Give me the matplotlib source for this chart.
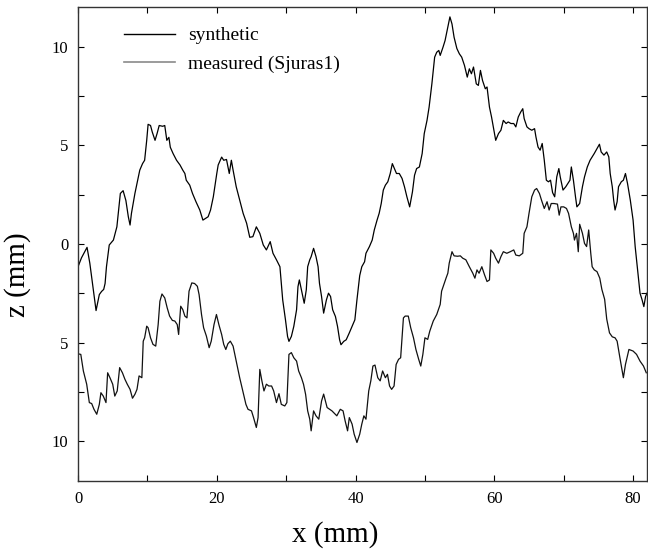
import numpy as np
from matplotlib import pyplot as plt
from matplotlib.lines import Line2D

# synthetic profile (upper curve)
syn_x = [0.0, 0.5, 1.3, 1.7, 2.6, 3.07, 3.4, 3.7, 3.9, 4.1, 4.5, 5.1, 5.6, 6.1, 6.5, 6.9, 7.25, 7.5, 7.7,
         8.2, 8.5, 8.9, 9.3, 9.6, 9.9, 10.1, 10.45, 10.7, 11.1, 11.4, 11.7, 12.2, 12.5, 12.8, 13.1, 13.3,
         13.7, 14.2, 14.7, 15.1, 15.4, 15.6, 16.1, 16.5, 17.0, 17.55, 18.0, 18.4, 18.75, 19.1, 19.5, 20.0,
         20.2, 20.7, 21.0, 21.4, 21.8, 22.1, 22.35, 22.8, 23.3, 23.8, 24.3, 24.75, 25.2, 25.7, 26.2, 26.7,
         27.15, 27.7, 28.1, 28.6, 29.1, 29.5, 29.9, 30.2, 30.4, 30.75, 31.1, 31.5, 31.7, 31.9, 32.2, 32.6,
         32.9, 33.1, 33.4, 33.6, 33.95, 34.3, 34.6, 34.8, 35.1, 35.4, 35.8, 36.1, 36.4, 36.7, 37.1, 37.4,
         37.7, 37.9, 38.3, 38.65, 39.1, 39.5, 39.9, 40.2, 40.6, 40.9, 41.3, 41.5, 42.0, 42.4, 42.7, 43.1,
         43.4, 43.7, 44.0, 44.3, 44.65, 45.0, 45.3, 45.6, 45.9, 46.3, 46.7, 47.05, 47.4, 47.8, 48.2, 48.5,
         48.8, 49.2, 49.6, 49.9, 50.3, 50.6, 51.0, 51.4, 51.7, 52.0, 52.2, 52.6, 52.9, 53.1, 53.4, 53.6,
         53.9, 54.2, 54.6, 54.96, 55.3, 55.7, 56.1, 56.4, 56.7, 57.0, 57.4, 57.7, 58.0, 58.3, 58.7, 58.95,
         59.3, 59.6, 59.9, 60.2, 60.6, 60.95, 61.3, 61.7, 62.0, 62.4, 62.8, 63.1, 63.45, 63.8, 64.1, 64.3,
         64.7, 65.0, 65.4, 65.8, 66.0, 66.3, 66.6, 66.9, 67.2, 67.5, 67.8, 68.1, 68.4, 68.7, 69.0, 69.3,
         69.5, 69.9, 70.3, 70.6, 70.9, 71.1, 71.4, 71.7, 71.9, 72.3, 72.7, 73.0, 73.4, 73.8, 74.1, 74.4,
         74.8, 75.15, 75.4, 75.8, 76.2, 76.5, 76.7, 77.0, 77.2, 77.4, 77.7, 77.9, 78.3, 78.6, 78.9, 79.2,
         79.6, 80.0, 80.3, 80.7, 81.0, 81.3, 81.55, 81.8, 82.0]
syn_z = [-1.15, -0.7, -0.17, -0.97, -3.37, -2.56, -2.4, -2.3, -2.0, -1.15, -0.05, 0.2, 0.87, 2.56, 2.7, 2.2,
         1.38, 0.96, 1.55, 2.56, 3.06, 3.74, 4.07, 4.24, 5.25, 6.06, 6.0, 5.67, 5.25, 5.6, 6.0, 5.96, 6.0,
         5.25, 5.4, 4.9, 4.58, 4.24, 4.0, 3.74, 3.57, 3.23, 2.98, 2.56, 2.14, 1.72, 1.21, 1.3, 1.38, 1.72,
         2.39, 3.57, 4.0, 4.4, 4.24, 4.28, 3.57, 4.24, 3.74, 2.9, 2.22, 1.55, 1.05, 0.34, 0.37, 0.87, 0.54,
         -0.05, -0.3, 0.12, -0.47, -0.8, -1.15, -2.83, -3.84, -4.68, -4.93, -4.68, -4.17, -3.33, -2.16, -1.82,
         -2.32, -3.0, -2.32, -1.15, -0.8, -0.64, -0.22, -0.64, -1.15, -1.99, -2.66, -3.5, -2.83, -2.49, -2.66,
         -3.33, -3.67, -4.17, -4.85, -5.1, -4.93, -4.85, -4.5, -4.17, -3.84, -2.83, -1.6, -1.15, -0.9, -0.47,
         -0.13, 0.2, 0.71, 1.21, 1.55, 2.05, 2.73, 2.98, 3.15, 3.57, 4.07, 3.82, 3.57, 3.57, 3.32, 2.9, 2.39,
         1.88, 2.64, 3.48, 3.82, 3.9, 4.58, 5.59, 6.26, 6.93, 8.11, 9.46, 9.71, 9.8, 9.55, 9.96, 10.3, 10.64,
         11.14, 11.5, 11.14, 10.47, 9.9, 9.63, 9.46, 9.04, 8.45, 8.87, 8.62, 8.96, 8.11, 8.03, 8.79, 8.28,
         7.86, 7.95, 6.93, 6.43, 5.84, 5.25, 5.59, 5.76, 6.26, 6.1, 6.18, 6.1, 6.1, 5.93, 6.43, 6.68, 6.85,
         6.35, 5.93, 5.84, 5.76, 5.84, 5.42, 4.91, 4.75, 5.09, 4.24, 3.23, 3.15, 3.23, 2.6, 2.39, 3.4, 3.82,
         3.4, 2.73, 2.9, 3.06, 3.23, 3.9, 3.23, 2.39, 1.88, 2.05, 2.9, 3.4, 3.9, 4.24, 4.41, 4.58, 4.83, 5.05,
         4.66, 4.5, 4.66, 4.41, 3.57, 2.9, 2.22, 1.72, 2.14, 2.9, 3.15, 3.23, 3.57, 3.06, 2.22, 1.21, -0.13,
         -1.48, -2.49, -2.83, -3.17, -2.66, -2.49]

# measured profile Sjuras1 (lower curve)
meas_x = [0.0, 0.4, 0.77, 1.25, 1.63, 1.97, 2.3, 2.7, 3.07, 3.3, 3.64, 4.03, 4.27, 4.6, 5.0, 5.3, 5.65, 6.0,
          6.4, 6.76, 7.1, 7.5, 7.85, 8.2, 8.5, 8.8, 9.2, 9.4, 9.6, 9.9, 10.1, 10.45, 10.8, 11.2, 11.55, 11.8,
          12.1, 12.5, 12.85, 13.2, 13.6, 13.95, 14.3, 14.5, 14.8, 15.1, 15.4, 15.7, 16.0, 16.4, 16.8, 17.2,
          17.45, 17.8, 18.1, 18.5, 18.9, 19.2, 19.6, 19.95, 20.3, 20.7, 21.0, 21.3, 21.6, 21.95, 22.35, 22.8,
          23.3, 23.8, 24.2, 24.5, 25.0, 25.3, 25.7, 25.95, 26.2, 26.5, 26.8, 27.15, 27.5, 27.9, 28.2, 28.6,
          28.96, 29.3, 29.8, 30.1, 30.4, 30.75, 31.1, 31.5, 31.8, 32.2, 32.5, 32.8, 33.1, 33.4, 33.6, 33.95,
          34.3, 34.7, 35.1, 35.4, 35.9, 36.6, 37.3, 37.8, 38.2, 38.5, 38.85, 39.1, 39.5, 39.8, 40.2, 40.6,
          40.9, 41.2, 41.5, 41.9, 42.2, 42.5, 42.8, 43.2, 43.55, 43.9, 44.3, 44.6, 44.9, 45.2, 45.55, 45.85,
          46.2, 46.5, 46.9, 47.15, 47.6, 47.95, 48.35, 48.7, 49.1, 49.4, 49.7, 50.0, 50.4, 50.7, 51.2, 51.7,
          52.2, 52.4, 52.8, 53.05, 53.3, 53.5, 53.9, 54.2, 54.7, 55.1, 55.45, 55.9, 56.4, 56.9, 57.2, 57.5,
          57.8, 58.2, 58.6, 58.95, 59.3, 59.5, 59.9, 60.2, 60.6, 60.95, 61.3, 61.8, 62.3, 62.8, 63.1, 63.6,
          64.1, 64.3, 64.7, 65.0, 65.4, 65.8, 66.1, 66.5, 66.8, 67.2, 67.6, 67.9, 68.2, 68.6, 69.1, 69.35,
          69.6, 70.0, 70.4, 70.7, 71.1, 71.4, 71.55, 71.85, 72.1, 72.3, 72.7, 73.0, 73.3, 73.6, 73.9, 74.1,
          74.4, 74.8, 75.2, 75.5, 75.9, 76.2, 76.6, 77.0, 77.4, 77.7, 78.1, 78.6, 78.9, 79.4, 80.0, 80.5,
          81.0, 81.5, 81.9]
meas_z = [-5.56, -5.59, -6.43, -7.1, -8.03, -8.08, -8.37, -8.62, -8.12, -7.53, -7.7, -8.03, -6.52, -6.77,
          -7.1, -7.7, -7.44, -6.26, -6.52, -6.85, -7.1, -7.36, -7.81, -7.61, -7.36, -6.68, -6.77, -4.92, -4.75,
          -4.16, -4.24, -4.75, -5.08, -5.17, -4.08, -2.9, -2.53, -2.73, -3.23, -3.65, -3.87, -3.9, -4.08, -4.58,
          -3.15, -3.32, -3.65, -3.74, -2.39, -1.97, -2.0, -2.14, -2.56, -3.57, -4.24, -4.66, -5.25, -4.92,
          -4.08, -3.57, -4.08, -4.58, -5.08, -5.34, -5.05, -4.92, -5.17, -5.93, -6.77, -7.53, -8.12, -8.37,
          -8.45, -8.79, -9.29, -8.79, -6.35, -6.93, -7.44, -7.1, -7.19, -7.19, -7.44, -8.03, -7.58, -8.12,
          -8.2, -8.03, -5.59, -5.5, -5.76, -5.93, -6.43, -6.77, -7.1, -7.61, -8.45, -8.87, -9.46, -8.45, -8.7,
          -8.87, -7.95, -7.6, -8.28, -8.45, -8.7, -8.37, -8.45, -8.96, -9.46, -8.79, -9.12, -9.63, -10.05,
          -9.63, -9.12, -8.7, -8.87, -7.44, -6.93, -6.18, -6.13, -6.77, -6.93, -6.43, -6.77, -6.6, -7.19, -7.36,
          -7.19, -6.1, -5.84, -5.76, -3.74, -3.65, -3.65, -4.24, -4.75, -5.34, -5.84, -6.18, -5.59, -4.75,
          -4.83, -4.41, -3.9, -3.57, -3.06, -2.39, -1.97, -1.72, -1.48, -0.97, -0.39, -0.6, -0.62, -0.6, -0.72,
          -0.8, -1.15, -1.48, -1.73, -1.31, -1.48, -1.15, -1.57, -1.9, -1.82, -0.3, -0.47, -0.72, -0.97, -0.64,
          -0.39, -0.47, -0.39, -0.3, -0.56, -0.6, -0.47, 0.54, 0.87, 1.55, 2.39, 2.73, 2.81, 2.56, 2.22, 1.8,
          2.14, 1.72, 2.05, 2.05, 2.02, 1.46, 1.88, 1.88, 1.8, 1.55, 0.87, 0.54, 0.2, 0.54, -0.39, 1.0, 0.54,
          0.03, -0.13, 0.71, -0.47, -1.15, -1.31, -1.4, -1.73, -2.3, -2.8, -3.8, -4.5, -4.7, -4.75, -4.92,
          -5.76, -6.77, -6.1, -5.34, -5.42, -5.59, -5.93, -6.18, -6.52]

xticks = [0, 20, 40, 60, 80]
yticks = [-10, -5, 0, 5, 10]
ytick_labels = ['10', '5', '0', '5', '10']

plt.rcParams['font.family'] = 'Liberation Serif'

fig = plt.figure(figsize=(6.48, 5.56), dpi=100)
ax = fig.add_axes([0.1204, 0.1349, 0.878, 0.8525])

ax.plot(syn_x, syn_z, color='black', lw=0.9)
ax.plot(meas_x, meas_z, color='#111111', lw=0.9)

ax.set_xlim(0, 82)
ax.set_ylim(-12, 12)

ax.set_xticks(xticks)
ax.set_xticks([10, 30, 50, 70], minor=True)
ax.set_yticks(yticks)
ax.set_yticklabels(ytick_labels)
ax.set_yticks([-7.5, -2.5, 2.5, 7.5], minor=True)
ax.tick_params(which='both', direction='in', top=True, right=True, length=4, width=0.8,
               labelsize=12, pad=7)

for s in ax.spines.values():
    s.set_linewidth(1.0)
    s.set_color('#333333')

ax.set_xlabel('x (mm)', fontsize=21)
ax.set_ylabel('z (mm)', fontsize=21)
ax.xaxis.set_label_coords(0.452, -0.085)
ax.yaxis.set_label_coords(-0.082, 0.435)

# legend handles: synthetic black, measured grey as in the original
handles = [Line2D([], [], color='black', lw=1.0), Line2D([], [], color='#8a8a8a', lw=1.2)]
ax.legend(handles, ['synthetic', 'measured (Sjuras1)'], loc='upper left',
          bbox_to_anchor=(0.05, 0.995), frameon=False, fontsize=14,
          handlelength=2.6, handletextpad=0.7, labelspacing=0.55)

fig.savefig('out.png', dpi=100)
